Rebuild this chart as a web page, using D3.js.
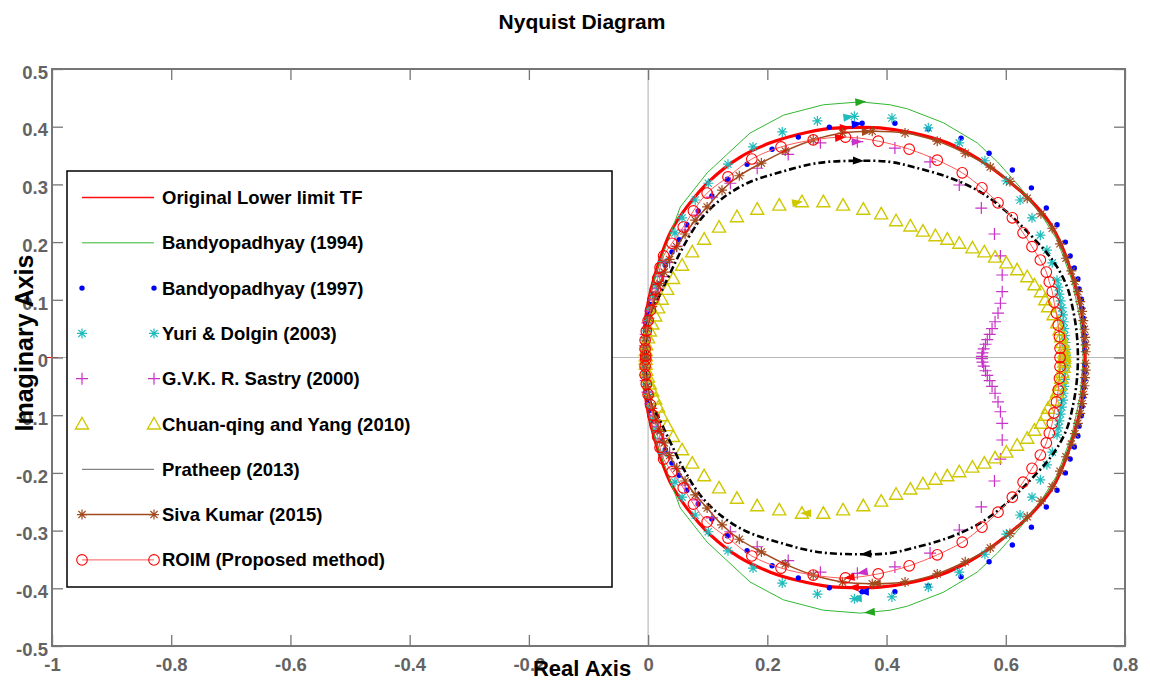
<!DOCTYPE html>
<html><head><meta charset="utf-8">
<script src="https://cdn.jsdelivr.net/npm/d3@7"></script>
<style>
body{margin:0;background:#fff}
text{font-family:"Liberation Sans",Arial,sans-serif;font-weight:bold}
</style>
</head><body>
<svg id="chart" width="1150" height="680"></svg>
<script>
// ---------- DATA (upper half, negative-frequency branch; lower half is its complex conjugate) ----------
const xTicks = [-1,-0.8,-0.6,-0.4,-0.2,0,0.2,0.4,0.6,0.8];
const xTickLabels = ["-1","-0.8","-0.6","-0.4","-0.2","0","0.2","0.4","0.6","0.8"];
const yTicks = [-0.5,-0.4,-0.3,-0.2,-0.1,0,0.1,0.2,0.3,0.4,0.5];
const yTickLabels = ["-0.5","-0.4","-0.3","-0.2","-0.1","0","0.1","0.2","0.3","0.4","0.5"];

const seriesNames = ["Original Lower limit TF","Bandyopadhyay (1994)","Bandyopadhyay (1997)","Yuri & Dolgin (2003)",
  "G.V.K. R. Sastry (2000)","Chuan-qing and Yang (2010)","Pratheep (2013)","Siva Kumar (2015)","ROIM (Proposed method)"];

const origUpper = [[-0.004,0],[-0.006,0.03],[-0.005,0.06],[0.0,0.095],[0.006,0.122],[0.015,0.155],[0.037,0.216],[0.065,0.261],
 [0.104,0.307],[0.154,0.347],[0.205,0.372],[0.25,0.386],[0.305,0.397],[0.361,0.399],[0.389,0.398],[0.445,0.389],[0.502,0.372],
 [0.557,0.342],[0.602,0.308],[0.641,0.273],[0.674,0.233],[0.692,0.198],[0.706,0.160],[0.718,0.120],[0.727,0.080],[0.731,0.040],[0.733,0]];

const band94Upper = [[-0.004,0],[-0.005,0.04],[0.0,0.09],[0.006,0.12],[0.015,0.152],[0.054,0.261],[0.099,0.320],[0.171,0.389],
 [0.227,0.420],[0.294,0.438],[0.356,0.443],[0.406,0.438],[0.435,0.431],[0.495,0.407],[0.552,0.372],[0.586,0.339],[0.624,0.295],
 [0.658,0.250],[0.686,0.204],[0.711,0.134],[0.725,0.065],[0.730,0]];

const band97Upper = [[-0.004,0.004],[-0.005,0.015],[-0.005,0.028],[-0.004,0.042],[-0.002,0.058],[0.001,0.075],[0.005,0.092],
 [0.010,0.110],[0.016,0.128],[0.022,0.144],[0.029,0.160],[0.040,0.183],[0.052,0.204],[0.065,0.230],[0.084,0.254],[0.107,0.280],
 [0.133,0.309],[0.166,0.335],[0.208,0.361],[0.252,0.382],[0.304,0.399],[0.359,0.406],[0.414,0.406],[0.470,0.396],[0.525,0.380],
 [0.572,0.354],[0.611,0.325],[0.643,0.294],[0.668,0.259],[0.686,0.230],[0.700,0.200],[0.708,0.176],[0.715,0.155],[0.721,0.136],
 [0.723,0.119],[0.727,0.101],[0.728,0.085],[0.730,0.068],[0.731,0.052],[0.732,0.038],[0.733,0.025],[0.733,0.012]];

const yuriUpper = [[-0.004,0.004],[-0.005,0.016],[-0.005,0.030],[-0.003,0.046],[0.0,0.064],[0.004,0.084],[0.009,0.105],
 [0.014,0.125],[0.019,0.145],[0.025,0.166],[0.045,0.216],[0.057,0.242],[0.079,0.273],[0.101,0.302],[0.134,0.335],[0.176,0.365],
 [0.225,0.391],[0.284,0.410],[0.346,0.418],[0.409,0.415],[0.470,0.398],[0.522,0.372],[0.565,0.341],[0.601,0.306],[0.624,0.273],
 [0.644,0.242],[0.658,0.212],[0.669,0.186],[0.678,0.164],[0.686,0.134],[0.688,0.122],[0.690,0.110],[0.692,0.098],[0.694,0.086],
 [0.696,0.074],[0.697,0.062],[0.698,0.050],[0.699,0.038],[0.700,0.026],[0.701,0.014],[0.701,0.004]];

const sastryUpper = [[-0.004,0.004],[-0.005,0.020],[-0.004,0.040],[-0.001,0.060],[0.004,0.080],[0.010,0.100],[0.017,0.120],
 [0.026,0.140],[0.036,0.165],[0.048,0.193],[0.062,0.221],[0.082,0.247],[0.107,0.278],[0.138,0.302],[0.183,0.328],[0.235,0.352],
 [0.289,0.372],[0.351,0.374],[0.414,0.363],[0.473,0.339],[0.522,0.299],[0.559,0.259],[0.581,0.214],[0.591,0.176],[0.594,0.143],
 [0.594,0.114],[0.591,0.094],[0.587,0.077],[0.582,0.062],[0.577,0.050],[0.573,0.040],[0.569,0.031],[0.566,0.023],[0.563,0.015],
 [0.561,0.008],[0.560,0.002]];

const chuanUpper = [[-0.004,0.003],[-0.004,0.012],[-0.003,0.022],[0.0,0.034],[0.003,0.046],[0.007,0.058],[0.012,0.072],
 [0.017,0.086],[0.023,0.101],[0.032,0.118],[0.042,0.137],[0.057,0.160],[0.074,0.183],[0.094,0.205],[0.119,0.226],[0.149,0.244],
 [0.183,0.257],[0.220,0.264],[0.258,0.270],[0.294,0.270],[0.327,0.264],[0.361,0.257],[0.391,0.249],[0.416,0.237],[0.440,0.228],
 [0.461,0.219],[0.482,0.211],[0.502,0.205],[0.522,0.198],[0.544,0.190],[0.564,0.183],[0.582,0.174],[0.601,0.164],[0.619,0.152],
 [0.636,0.140],[0.648,0.126],[0.659,0.114],[0.666,0.100],[0.671,0.088],[0.680,0.074],[0.686,0.060],[0.690,0.048],[0.693,0.036],
 [0.695,0.026],[0.697,0.017],[0.698,0.008],[0.698,0.002]];

const pratheepUpper = [[-0.004,0],[-0.004,0.025],[-0.002,0.05],[0.003,0.075],[0.009,0.090],[0.017,0.103],[0.029,0.129],
 [0.042,0.157],[0.059,0.192],[0.087,0.238],[0.121,0.273],[0.166,0.302],[0.221,0.321],[0.284,0.337],[0.351,0.341],[0.406,0.339],
 [0.445,0.330],[0.502,0.313],[0.557,0.287],[0.602,0.252],[0.636,0.218],[0.669,0.181],[0.686,0.157],[0.703,0.122],[0.713,0.082],
 [0.719,0.042],[0.721,0]];

const sivaUpper = [[-0.004,0.004],[-0.005,0.018],[-0.004,0.034],[-0.002,0.050],[0.002,0.068],[0.007,0.088],[0.013,0.108],
 [0.020,0.128],[0.027,0.148],[0.036,0.170],[0.048,0.192],[0.062,0.214],[0.079,0.238],[0.099,0.261],[0.124,0.290],[0.153,0.315],
 [0.190,0.337],[0.230,0.358],[0.277,0.377],[0.326,0.389],[0.376,0.392],[0.431,0.389],[0.485,0.375],[0.532,0.354],[0.574,0.330],
 [0.607,0.305],[0.636,0.276],[0.659,0.249],[0.678,0.224],[0.691,0.197],[0.701,0.172],[0.710,0.150],[0.716,0.132],[0.721,0.114],
 [0.725,0.097],[0.728,0.080],[0.730,0.064],[0.732,0.049],[0.733,0.035],[0.734,0.022],[0.734,0.010]];

const roimUpper = [[-0.004,0.003],[-0.005,0.015],[-0.005,0.030],[-0.003,0.046],[0.0,0.064],[0.004,0.082],[0.008,0.100],
 [0.012,0.118],[0.016,0.137],[0.020,0.156],[0.026,0.176],[0.040,0.198],[0.059,0.226],[0.076,0.254],[0.099,0.285],[0.134,0.313],
 [0.174,0.344],[0.223,0.365],[0.277,0.377],[0.331,0.382],[0.386,0.375],[0.438,0.361],[0.485,0.342],[0.527,0.320],[0.560,0.294],
 [0.587,0.268],[0.611,0.242],[0.629,0.216],[0.644,0.192],[0.658,0.169],[0.668,0.148],[0.673,0.131],[0.678,0.114],[0.681,0.096],
 [0.685,0.077],[0.688,0.056],[0.690,0.036],[0.691,0.016],[0.691,0]];

// real-axis position of the direction arrows (upper branch, lower branch)
const arrowUpperRe = [0.33,0.356,0.35,0.336,0.35,0.25,0.352,0.367,0.322];
const arrowLowerRe = [0.345,0.372,0.362,0.35,0.36,0.265,0.366,0.382,0.338];

// ---------- STYLES ----------
const styles = [
 {stroke:"#ff0000", width:3.2, marker:null, color:"#ff0000", legendStroke:"#ff1010", legendWidth:1.6},
 {stroke:"#33b833", width:1, marker:null, color:"#22a622", linear:true},
 {stroke:null, marker:"dot", color:"#0000ff"},
 {stroke:null, marker:"star", color:"#20bcbc"},
 {stroke:null, marker:"plus", color:"#c832c8"},
 {stroke:null, marker:"tri", color:"#cfc800"},
 {stroke:"#000000", width:2.6, dash:"7,3,2,3", marker:null, color:"#000000", legendStroke:"#666", legendWidth:1},
 {stroke:"#a24a1e", width:1.5, marker:"star", color:"#a24a1e"},
 {stroke:"#ff5a5a", width:1, marker:"circle", color:"#ff0000"}
];
const seriesUpper = [origUpper,band94Upper,band97Upper,yuriUpper,sastryUpper,chuanUpper,pratheepUpper,sivaUpper,roimUpper];

// ---------- CHART ----------
const svg = d3.select("#chart");
const x = d3.scaleLinear().domain([-1,0.8]).range([52,1125]);
const y = d3.scaleLinear().domain([-0.5,0.5]).range([646,69]);
const axisGray = "#767676";

svg.append("rect").attr("width",1150).attr("height",680).attr("fill","#fff");

svg.append("defs").append("clipPath").attr("id","clip").append("rect")
  .attr("x",x(-1)).attr("y",y(0.5)).attr("width",x(0.8)-x(-1)).attr("height",y(-0.5)-y(0.5));

// zero lines
svg.append("line").attr("x1",x(-1)).attr("x2",x(0.8)).attr("y1",y(0)).attr("y2",y(0))
  .attr("stroke","#b8b8b8").attr("stroke-width",1);
svg.append("line").attr("x1",x(0)).attr("x2",x(0)).attr("y1",y(0.5)).attr("y2",y(-0.5))
  .attr("stroke","#c8c8c8").attr("stroke-width",1.5);

function fullPath(up){
  const low = up.slice().reverse().filter(p=>p[1]!==0).map(p=>[p[0],-p[1]]);
  return up.concat(low);
}
function markerPoints(up){
  return up.concat(up.filter(p=>p[1]!==0).map(p=>[p[0],-p[1]]));
}
function markerPath(type){
  if(type==="star"){const s=5,d=3.6;return `M${-s},0H${s}M0,${-s}V${s}M${-d},${-d}L${d},${d}M${-d},${d}L${d},${-d}`;}
  if(type==="plus"){const s=6;return `M${-s},0H${s}M0,${-s}V${s}`;}
  if(type==="tri"){return "M0,-6.5L6.5,5L-6.5,5Z";}
  return null;
}
function drawMarker(g, type, color, px, py){
  if(type==="dot"){
    g.append("circle").attr("cx",px).attr("cy",py).attr("r",2.7).attr("fill",color);
  } else if(type==="circle"){
    g.append("circle").attr("cx",px).attr("cy",py).attr("r",5.3).attr("fill","none").attr("stroke",color).attr("stroke-width",1.1);
  } else {
    g.append("path").attr("d",markerPath(type)).attr("transform",`translate(${px},${py})`)
      .attr("fill","none").attr("stroke",color).attr("stroke-width",type==="tri"?1.4:1.2);
  }
}
function arrowOn(pts, target, upper){
  for(let i=0;i<pts.length-1;i++){
    const a=pts[i], b=pts[i+1];
    if((upper && a[1]>0 && b[1]>0) || (!upper && a[1]<0 && b[1]<0)){
      if((a[0]-target)*(b[0]-target)<=0 && a[0]!==b[0]){
        const t=(target-a[0])/(b[0]-a[0]);
        const px=x(a[0]+t*(b[0]-a[0])), py=y(a[1]+t*(b[1]-a[1]));
        const ang=Math.atan2(y(b[1])-y(a[1]), x(b[0])-x(a[0]))*180/Math.PI;
        return {px,py,ang};
      }
    }
  }
  return null;
}

const plot = svg.append("g").attr("clip-path","url(#clip)");
seriesUpper.forEach((up,k)=>{
  const st = styles[k];
  const g = plot.append("g");
  const pts = fullPath(up);
  if(st.stroke){
    const line = d3.line().x(d=>x(d[0])).y(d=>y(d[1])).curve(st.linear?d3.curveLinear:d3.curveCatmullRom.alpha(0.5));
    g.append("path").attr("d",line(pts)).attr("fill","none").attr("stroke",st.stroke)
      .attr("stroke-width",st.width).attr("stroke-dasharray",st.dash||null).attr("stroke-linejoin","round");
  }
  if(st.marker){
    markerPoints(up).forEach(p=>drawMarker(g, st.marker, st.color, x(p[0]), y(p[1])));
  }
  [[arrowUpperRe[k],true],[arrowLowerRe[k],false]].forEach(([t,u])=>{
    const a = arrowOn(pts,t,u);
    if(a) g.append("path").attr("d","M6,0L-5,-4L-5,4Z").attr("fill",st.color)
      .attr("transform",`translate(${a.px},${a.py}) rotate(${a.ang})`);
  });
});

// critical point -1
svg.append("path").attr("d","M-6,0H6M0,-4V4").attr("transform",`translate(${x(-1)},${y(0)})`)
  .attr("stroke","#ff0000").attr("stroke-width",1.2);

// axes box
svg.append("rect").attr("x",x(-1)).attr("y",y(0.5)).attr("width",x(0.8)-x(-1)).attr("height",y(-0.5)-y(0.5))
  .attr("fill","none").attr("stroke",axisGray).attr("stroke-width",2);

const tickLen = 11;
const gx = svg.append("g").attr("transform",`translate(0,${y(-0.5)})`)
  .call(d3.axisBottom(x).tickValues(xTicks).tickFormat((d,i)=>xTickLabels[i]).tickSizeInner(-tickLen).tickSizeOuter(0).tickPadding(12));
const gxt = svg.append("g").attr("transform",`translate(0,${y(0.5)})`)
  .call(d3.axisTop(x).tickValues(xTicks).tickFormat("").tickSizeInner(-tickLen).tickSizeOuter(0));
const gy = svg.append("g").attr("transform",`translate(${x(-1)},0)`)
  .call(d3.axisLeft(y).tickValues(yTicks).tickFormat((d,i)=>yTickLabels[i]).tickSizeInner(-tickLen).tickSizeOuter(0).tickPadding(4));
const gyr = svg.append("g").attr("transform",`translate(${x(0.8)},0)`)
  .call(d3.axisRight(y).tickValues(yTicks).tickFormat("").tickSizeInner(-tickLen).tickSizeOuter(0));
[gx,gxt,gy,gyr].forEach(g=>{
  g.select(".domain").remove();
  g.selectAll(".tick line").attr("stroke",axisGray).attr("stroke-width",1.3);
  g.selectAll("text").attr("fill","#636363").style("font-size","18.5px")
    .style("font-family",'"Liberation Sans",Arial,sans-serif').style("font-weight","bold");
});
gy.selectAll("text").attr("dy","0.5em");

// legend
const lg = svg.append("g");
lg.append("rect").attr("x",67).attr("y",171).attr("width",545).attr("height",416)
  .attr("fill","#fff").attr("stroke","#000").attr("stroke-width",1.5);
seriesNames.forEach((name,k)=>{
  const st = styles[k];
  const ly = 197.5 + k*45.3;
  if(st.stroke){
    lg.append("line").attr("x1",82).attr("x2",154).attr("y1",ly).attr("y2",ly)
      .attr("stroke",st.legendStroke||st.stroke).attr("stroke-width",st.legendWidth||st.width);
  }
  if(st.marker){
    drawMarker(lg, st.marker, st.color, 82, ly);
    drawMarker(lg, st.marker, st.color, 154, ly);
  }
  lg.append("text").attr("x",162).attr("y",ly+6.5).attr("fill","#000").style("font-size","18.5px").text(name);
});

// titles
svg.append("text").attr("x",582).attr("y",29).attr("text-anchor","middle").attr("fill","#000")
  .style("font-size","21px").text("Nyquist Diagram");
svg.append("text").attr("x",582).attr("y",676).attr("text-anchor","middle").attr("fill","#000")
  .style("font-size","22px").text("Real Axis");
svg.append("text").attr("transform","translate(33,343) rotate(-90)").attr("text-anchor","middle").attr("fill","#000")
  .style("font-size","25px").text("Imaginary Axis");
</script>
</body></html>
